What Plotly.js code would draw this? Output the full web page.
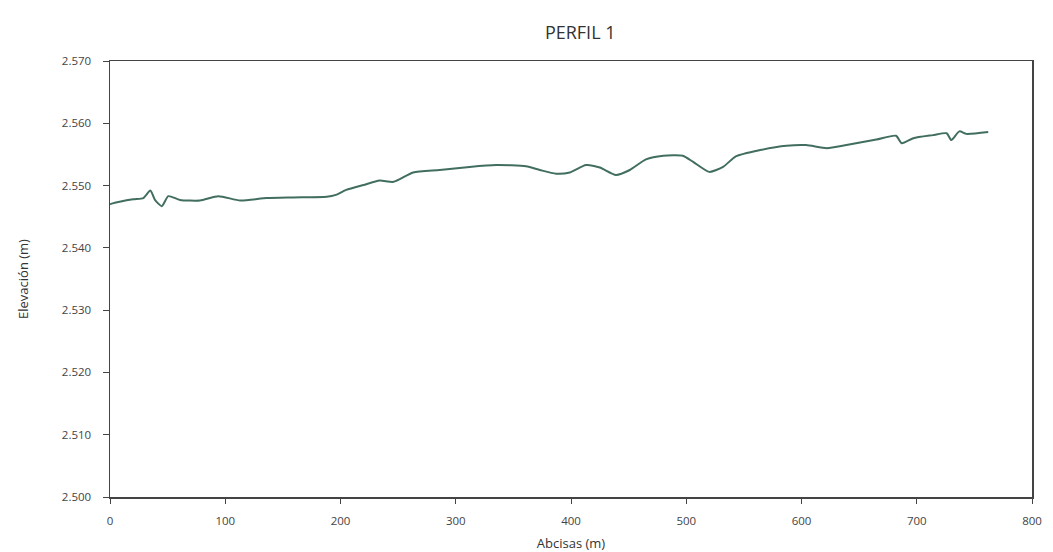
<!DOCTYPE html>
<html>
<head>
<meta charset="utf-8">
<script src="https://cdn.plot.ly/plotly-3.0.1.min.js"></script>
<style>html,body{margin:0;padding:0;background:#fff;}#chart{width:1053px;height:552px;}</style>
</head>
<body>
<div id="chart"></div>
<script>
const abscisas = [0, 1.5, 20, 29, 35, 39, 45, 50.6, 60.7, 78, 94, 113, 136, 159, 188, 196, 205, 220, 234, 246, 263, 286, 312, 335, 361, 373, 387, 399, 413, 425, 439, 451, 465, 480, 497, 506, 520, 532, 543, 564, 587, 604, 622, 639, 665, 682, 687, 697, 714, 726, 730, 737, 743, 762];
const elevacion = [2547.0, 2547.1, 2547.8, 2548.0, 2549.2, 2547.7, 2546.7, 2548.3, 2547.7, 2547.6, 2548.3, 2547.6, 2548.0, 2548.1, 2548.2, 2548.5, 2549.3, 2550.1, 2550.8, 2550.6, 2552.1, 2552.5, 2553.0, 2553.3, 2553.1, 2552.5, 2551.9, 2552.1, 2553.3, 2552.9, 2551.7, 2552.5, 2554.2, 2554.8, 2554.8, 2553.8, 2552.2, 2553.0, 2554.7, 2555.7, 2556.4, 2556.5, 2556.0, 2556.5, 2557.4, 2558.0, 2556.8, 2557.6, 2558.1, 2558.4, 2557.3, 2558.7, 2558.3, 2558.6];
const xTicks = [0, 100, 200, 300, 400, 500, 600, 700, 800];
const yTicks = [2500, 2510, 2520, 2530, 2540, 2550, 2560, 2570];
const yTickText = ['2.500', '2.510', '2.520', '2.530', '2.540', '2.550', '2.560', '2.570'];

const font = 'Open Sans, Liberation Sans, sans-serif';
Plotly.newPlot('chart', [{
  x: abscisas, y: elevacion, type: 'scatter', mode: 'lines',
  line: {color: '#416e60', width: 2, shape: 'spline', smoothing: 0.6},
  hoverinfo: 'skip'
}], {
  width: 1053, height: 552,
  margin: {l: 110, r: 21, t: 61, b: 55},
  paper_bgcolor: '#fff', plot_bgcolor: '#fff',
  showlegend: false,
  title: {text: 'PERFIL 1', x: 0.551, xanchor: 'center', y: 0.94, yanchor: 'middle', font: {family: font, size: 18, color: '#333'}},
  xaxis: {
    range: [0, 800], tickvals: xTicks, ticktext: xTicks.map(String),
    showgrid: false, zeroline: false, showline: true, linecolor: '#444', linewidth: 1.5, mirror: true,
    ticks: 'outside', ticklen: 5, tickcolor: '#444', ticklabelstandoff: 8,
    tickfont: {family: font, size: 11.5, color: '#444'},
    title: {text: 'Abcisas (m)', font: {family: font, size: 13, color: '#333'}, standoff: 12}
  },
  yaxis: {
    range: [2500, 2570], tickvals: yTicks, ticktext: yTickText,
    showgrid: false, zeroline: false, showline: true, linecolor: '#444', linewidth: 1.5, mirror: true,
    ticks: 'outside', ticklen: 6, tickcolor: '#444', ticklabelstandoff: 9,
    tickfont: {family: font, size: 11.5, color: '#444'},
    title: {text: 'Elevación (m)', font: {family: font, size: 13, color: '#333'}, standoff: 30}
  }
}, {displayModeBar: false, staticPlot: true});
</script>
</body>
</html>
